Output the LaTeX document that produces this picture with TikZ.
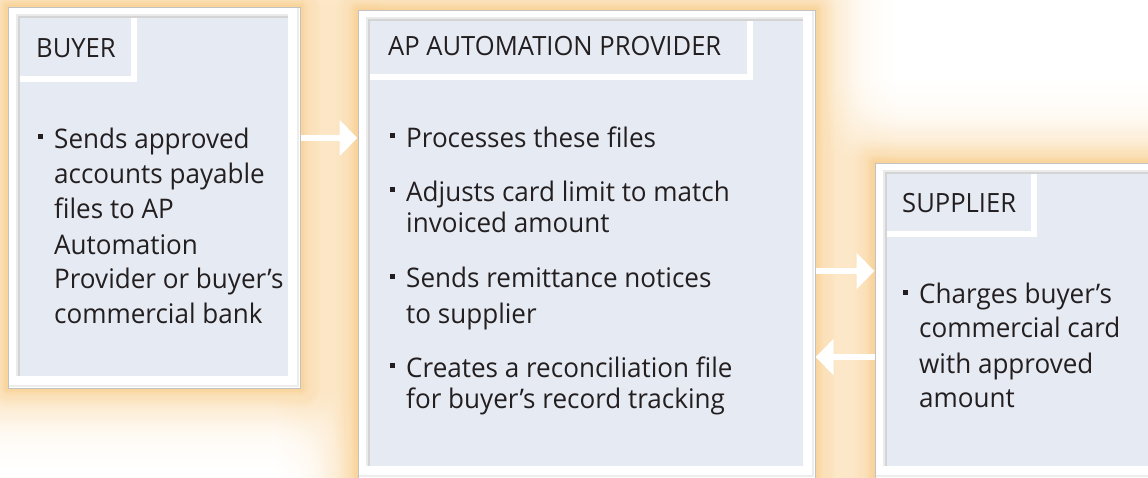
\documentclass[tikz,border=0pt]{standalone}
\usepackage{fontspec}
\setmainfont[FakeStretch=0.965]{Open Sans}
\usetikzlibrary{arrows.meta,fit}
\definecolor{txt}{HTML}{231F20}
\definecolor{panel}{HTML}{E6EAF3}
\definecolor{glowc}{RGB}{247,198,124}
\definecolor{frameline}{HTML}{C2C2C2}
\newcommand\bul{\llap{\rule[9pt]{5pt}{5pt}\hspace{11pt}}}
\tikzset{
  bodytext/.style={anchor=base west, inner sep=0pt, text=txt, font=\fontsize{27}{32}\selectfont},
  headtext/.style={anchor=base west, inner sep=0pt, text=txt, font=\fontsize{26.5}{32}\selectfont},
  outerbox/.style={inner sep=0pt, fill=white, draw=frameline, line width=1pt},
  flow/.style={draw=white, line width=6.5pt, -{Triangle[length=18pt,width=35pt]}},
}
% #1 name, #2 x1, #3 y1, #4 x2, #5 y2, #6 tab x, #7 tab y
\newcommand\apanel[7]{%
  \node[outerbox, fit={(#2,#3) (#4,#5)}] (#1) {};
  \draw[black!7, line width=2.5pt] (#2+1,#5-2) -- (#4-2,#5-2) -- (#4-2,#3+1);
  \fill[black!8] (#2+8,#3+7) rectangle (#4-12,#5-12);
  \fill[black!17] (#2+10,#3+9) rectangle (#4-12,#5-12);
  \fill[panel] (#2+12,#3+11) rectangle (#4-12,#5-12);
  \draw[white, line width=6pt] (#2+12,#7) -- (#6+3,#7);
  \draw[white, line width=6pt] (#6,#3+11) -- (#6,#7+3);
}
\newcommand\glow[4]{%
  \foreach \r in {2,4,...,90}{%
    \pgfmathsetmacro\op{1-(1-0.78*exp(-(\r-2)/23))/(1-0.78*exp(-\r/23))}%
    \draw[glowc, opacity=\op, line width=2*\r pt, line join=round] (#1,#2) rectangle (#3,#4);
  }%
}
\begin{document}
\begin{tikzpicture}[x=1pt,y=-1pt]
\useasboundingbox (0,0) rectangle (1148,477);
\clip (0,0) rectangle (1148,477);
% glow
\glow{8}{7}{300}{388}
\glow{358}{10}{815}{478}
\glow{875}{163}{1170}{478}
% panels
\apanel{buyer}{8}{7}{300}{388}{133.5}{79}
\apanel{ap}{358}{10}{815}{478}{750}{77}
\apanel{supplier}{875}{163}{1170}{478}{1034}{234}
% headers
\node[headtext] (hb) at (36,57) {BUYER};
\node[headtext] (ha) at (388,55) {AP AUTOMATION PROVIDER};
\node[headtext] (hs) at (902,212) {SUPPLIER};
% buyer text
\node[bodytext] (b1) at (54,148) {\bul Sends approved};
\node[bodytext] (b2) at (54,183) {accounts payable};
\node[bodytext] (b3) at (54,218.5) {files to AP};
\node[bodytext] (b4) at (54,254) {Automation};
\node[bodytext] (b5) at (54,288.5) {Provider or buyer’s};
\node[bodytext] (b6) at (54,323.5) {commercial bank};
% ap text
\node[bodytext] (a1) at (406,147) {\bul Processes these files};
\node[bodytext] (a2) at (406,201) {\bul Adjusts card limit to match};
\node[bodytext] (a3) at (406,232) {invoiced amount};
\node[bodytext] (a4) at (406,287.5) {\bul Sends remittance notices};
\node[bodytext] (a5) at (406,323.5) {to supplier};
\node[bodytext] (a6) at (406,377) {\bul Creates a reconciliation file};
\node[bodytext] (a7) at (406,408.5) {for buyer’s record tracking};
% supplier text
\node[bodytext] (s1) at (919,303.5) {\bul Charges buyer’s};
\node[bodytext] (s2) at (919,337.5) {commercial card};
\node[bodytext] (s3) at (919,373.5) {with approved};
\node[bodytext] (s4) at (919,407) {amount};
% arrows
\draw[flow] (buyer.east |- 0,138) -- (ap.west |- 0,138);
\draw[flow] (ap.east |- 0,271) -- (supplier.west |- 0,271);
\draw[flow] (supplier.west |- 0,357) -- (ap.east |- 0,357);
\end{tikzpicture}
\end{document}
